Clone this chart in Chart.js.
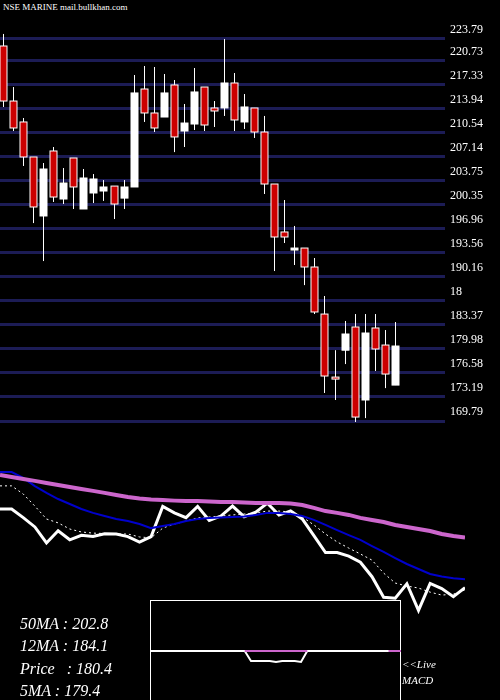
<!DOCTYPE html>
<html><head><meta charset="utf-8">
<script src="https://cdn.jsdelivr.net/npm/chart.js@4/dist/chart.umd.min.js"></script>
<style>
body{margin:0;background:#000;width:500px;height:700px;overflow:hidden;position:relative;font-family:"Liberation Serif","DejaVu Serif",serif}
canvas{position:absolute}
.t{position:absolute;color:#fff;font-style:italic;font-size:16px;white-space:pre}
</style></head><body>
<div style="position:absolute;left:3px;top:2px;color:#fff;font-size:9px">NSE MARINE mail.bullkhan.com</div>
<canvas id="top" width="500" height="430" style="left:0;top:0;width:500px;height:430px"></canvas>
<canvas id="low" width="500" height="270" style="left:0;top:430px;width:500px;height:270px"></canvas>
<div style="position:absolute;left:150px;top:600px;width:249px;height:100px;border:1px solid #fff;border-bottom:none;background:#000"></div>
<canvas id="macd" width="250" height="100" style="left:151px;top:601px;width:250px;height:100px"></canvas>
<div class="t" style="left:20px;top:615px">50MA : 202.8</div>
<div class="t" style="left:20px;top:637px">12MA : 184.1</div>
<div class="t" style="left:20px;top:660px">Price   : 180.4</div>
<div class="t" style="left:20px;top:682px">5MA : 179.4</div>
<div class="t" style="left:402px;top:658px;font-size:11px">&lt;&lt;Live</div>
<div class="t" style="left:402px;top:674px;font-size:11px">MACD</div>
<script>
const opens  = [222.80,215.02,212.06,207.11,198.77,207.96,201.17,206.97,199.76,202.02,202.30,203.00,201.30,202.87,216.72,213.33,212.76,217.29,210.78,211.77,217.00,214.04,214.04,217.57,212.06,214.04,210.64,203.29,196.51,193.96,194.24,191.56,184.91,176.00,179.80,183.08,172.76,182.94,180.53,174.87];
const highs  = [224.50,217.00,212.62,207.11,206.26,208.52,205.55,206.97,205.41,204.70,203.85,203.00,203.85,218.70,219.97,219.83,218.84,217.99,214.60,219.69,217.00,215.02,223.79,218.98,216.01,214.04,212.91,203.29,201.03,197.36,194.24,192.83,187.46,179.80,183.93,184.91,184.91,184.91,182.65,183.78];
const lows   = [214.18,210.78,205.84,197.77,192.40,200.75,200.46,199.76,199.76,200.60,200.90,198.34,199.76,202.87,212.06,210.64,212.76,207.80,208.52,210.92,210.78,211.35,212.91,210.78,211.07,209.80,201.88,190.99,194.95,191.84,189.00,184.91,173.75,172.76,177.84,169.65,170.20,176.86,174.44,174.87];
const closes = [215.02,211.21,207.11,200.04,205.41,201.45,203.43,202.87,204.14,204.00,202.87,200.46,202.87,216.16,213.33,211.21,216.16,209.94,211.91,216.30,211.63,213.61,217.57,212.34,214.18,210.64,203.29,195.80,195.80,194.24,191.56,185.20,176.15,175.72,182.09,170.35,182.23,179.97,176.43,180.39];
const prevClose = 215.0;
const tickValues = [223.79,220.73,217.33,213.94,210.54,207.14,203.75,200.35,196.96,193.56,190.16,186.77,183.37,179.98,176.58,173.19,169.79];
const tickLabels = ["223.79","220.73","217.33","213.94","210.54","207.14","203.75","200.35","196.96","193.56","190.16","18","183.37","179.98","176.58","173.19","169.79"];
const ma50 = [230.0,229.1,228.2,227.4,226.5,225.6,224.7,223.8,223.0,222.1,221.2,220.3,219.6,219.2,219.0,218.7,218.5,218.5,218.3,218.1,218.1,217.9,217.7,217.7,217.7,217.4,216.8,215.5,214.1,213.3,212.4,211.1,210.2,209.3,208.0,207.1,206.2,205.3,204.0,203.1,202.5];
const ma12 = [231.3,231.3,228.7,225.1,222.1,219.4,217.2,215.0,213.3,211.9,210.6,209.7,208.4,206.6,207.5,208.4,209.7,210.6,211.1,211.3,211.5,211.7,212.4,213.3,213.3,212.8,211.9,210.2,208.0,205.7,203.5,201.4,198.7,196.1,193.4,190.8,188.6,186.4,185.3,184.5,184.1];
const ma5  = [225.2,225.2,221.6,216.3,210.6,208.9,206.2,204.9,204.4,204.2,204.0,204.0,202.7,202.3,206.6,208.4,209.7,211.1,211.5,211.9,212.4,212.8,213.3,214.1,214.1,213.7,211.5,208.0,204.0,200.5,197.8,195.2,192.5,186.8,182.4,181.1,180.2,178.4,177.1,177.5,179.4];
const macdVals = [0,0,0,0,0,0,0,0,0,0,0,0,0,0,0,0,-1,-1,-1,-1,-1.1,-1,-1,-1,-1.1,0,0,0,0,0,0,0,0,0,0,0,0,0,0,0,0];
const signalVals = [null,null,null,null,null,null,null,null,null,null,null,null,null,null,null,0,0,0,0,0,0,0,0,0,0,0,null,null,null,null,null,null,null,null,null,null,null,null,0,0,0];

const candlePlugin = {
  id:'candles',
  afterDatasetsDraw(c){
    const ctx=c.ctx, x=c.scales.x, y=c.scales.y;
    closes.forEach((cl,i)=>{
      const op=opens[i], px=Math.round(x.getPixelForValue(i))+0.5;
      ctx.strokeStyle='#fff'; ctx.lineWidth=1;
      ctx.beginPath(); ctx.moveTo(px,y.getPixelForValue(highs[i])); ctx.lineTo(px,y.getPixelForValue(lows[i])); ctx.stroke();
      const t=y.getPixelForValue(Math.max(op,cl)), b=y.getPixelForValue(Math.min(op,cl));
      const h=Math.max(2,b-t);
      ctx.fillStyle = cl>=op ? '#fff' : '#cc0000';
      ctx.fillRect(px-3.5,t,7,h); ctx.strokeRect(px-3.5,t,7,h);
    });
    ctx.fillStyle='#fff'; ctx.font='12px "Liberation Serif",serif'; ctx.textBaseline='bottom';
    tickValues.forEach((v,i)=>{ ctx.fillText(tickLabels[i],450,y.getPixelForValue(v)-3); });
  }
};
new Chart(document.getElementById('top'),{
  type:'line',
  data:{datasets:[{data:[],showLine:false}]},
  options:{responsive:false,animation:false,events:[],
    layout:{padding:{left:0,right:55,top:0,bottom:0}},
    plugins:{legend:{display:false},tooltip:{enabled:false}},
    scales:{
      x:{type:'linear',min:-0.3,max:44,display:false},
      y:{min:168.52,max:229.3,border:{display:false},
        afterBuildTicks(s){s.ticks=tickValues.map(v=>({value:v}));},
        ticks:{display:false},grid:{color:'#1c1c55',lineWidth:3,drawTicks:false}}
    }},
  plugins:[candlePlugin]
});
const labels=ma50.map((_,i)=>i);
new Chart(document.getElementById('low'),{
  type:'line',
  data:{labels,datasets:[
    {data:ma50,borderColor:'#cc66cc',borderWidth:4,pointRadius:0,tension:0},
    {data:ma12,borderColor:'#0000cc',borderWidth:2,pointRadius:0,tension:0},
    {data:ma5,borderColor:'#fff',borderWidth:1,borderDash:[2,3],pointRadius:0,tension:0},
    {data:[prevClose,...closes],borderColor:'#fff',borderWidth:3,pointRadius:0,tension:0}
  ]},
  options:{responsive:false,animation:false,events:[],
    layout:{padding:{left:0,right:35,top:0,bottom:0}},
    plugins:{legend:{display:false},tooltip:{enabled:false}},
    scales:{x:{type:'linear',min:0,max:40,display:false},y:{min:130.9,max:249.8,display:false}}}
});
new Chart(document.getElementById('macd'),{
  type:'line',
  data:{labels,datasets:[
    {data:signalVals,borderColor:'#cc66cc',borderWidth:2,pointRadius:0,spanGaps:false},
    {data:macdVals,borderColor:'#fff',borderWidth:2,pointRadius:0}
  ]},
  options:{responsive:false,animation:false,events:[],
    layout:{padding:0},
    plugins:{legend:{display:false},tooltip:{enabled:false}},
    scales:{x:{type:'linear',min:0,max:40,display:false},y:{min:-5,max:5,display:false}}}
});
</script></body></html>
